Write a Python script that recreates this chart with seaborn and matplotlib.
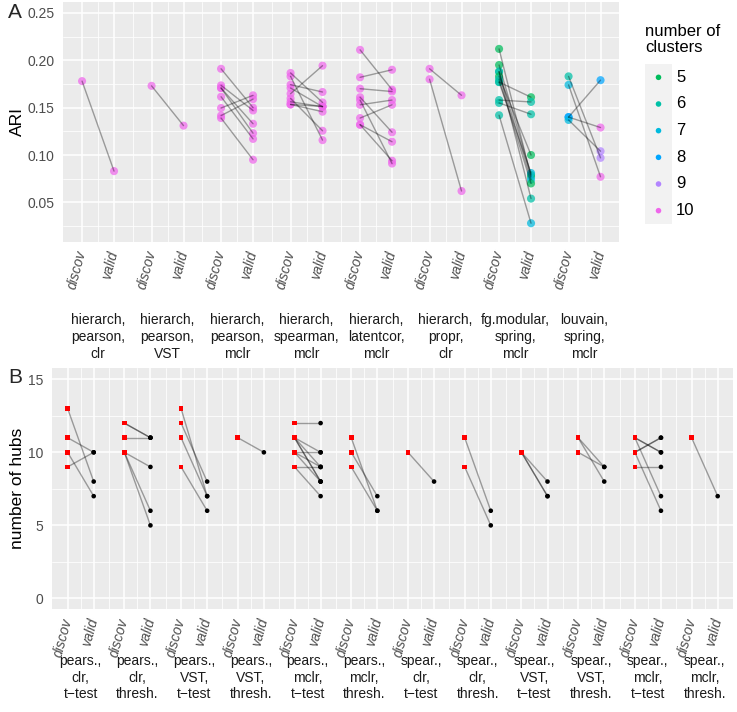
import numpy as np
import pandas as pd
import matplotlib
matplotlib.use('Agg')
import matplotlib.pyplot as plt
import seaborn as sns
from matplotlib.ticker import FixedLocator, FormatStrFormatter
from matplotlib.transforms import blended_transform_factory

# ---- panel A: ARI, discovery vs validation ----
ari_methods = ['hierarch,\npearson,\nclr', 'hierarch,\npearson,\nVST', 'hierarch,\npearson,\nmclr',
               'hierarch,\nspearman,\nmclr', 'hierarch,\nlatentcor,\nmclr', 'hierarch,\npropr,\nclr',
               'fg.modular,\nspring,\nmclr', 'louvain,\nspring,\nmclr']
ari_group = [0, 1] + [2] * 8 + [3] * 9 + [4] * 9 + [5] * 2 + [6] * 11 + [7] * 5
ari_discov = [0.178, 0.173,
              0.191, 0.1735, 0.1707, 0.1707, 0.1615, 0.1496, 0.1416, 0.139,
              0.1866, 0.183, 0.1742, 0.1707, 0.1647, 0.1597, 0.1562, 0.1534, 0.1534,
              0.211, 0.182, 0.170, 0.161, 0.158, 0.153, 0.139, 0.132, 0.132,
              0.191, 0.180,
              0.212, 0.195, 0.188, 0.188, 0.183, 0.180, 0.177, 0.177, 0.158, 0.155, 0.142,
              0.183, 0.174, 0.140, 0.140, 0.137]
ari_valid = [0.083, 0.131,
             0.150, 0.147, 0.123, 0.133, 0.117, 0.163, 0.159, 0.095,
             0.1555, 0.1157, 0.1665, 0.151, 0.1943, 0.1256, 0.151, 0.1457, 0.1513,
             0.169, 0.190, 0.167, 0.124, 0.091, 0.158, 0.153, 0.114, 0.094,
             0.163, 0.062,
             0.077, 0.079, 0.054, 0.074, 0.100, 0.070, 0.161, 0.081, 0.156, 0.143, 0.028,
             0.097, 0.077, 0.179, 0.129, 0.104]
k_discov = [10] * 30 + [5, 5, 6, 6, 5, 6, 6, 6, 6, 6, 6] + [6, 7, 8, 8, 7]
k_valid = [10] * 30 + [6, 5, 6, 7, 5, 5, 5, 7, 6, 6, 7] + [9, 10, 8, 10, 9]
cluster_levels = [5, 6, 7, 8, 9, 10]

# ---- panel B: number of hubs ----
hub_methods = ['pears.,\nclr,\nt\u2212test', 'pears.,\nclr,\nthresh.', 'pears.,\nVST,\nt\u2212test',
               'pears.,\nVST,\nthresh.', 'pears.,\nmclr,\nt\u2212test', 'pears.,\nmclr,\nthresh.',
               'spear.,\nclr,\nt\u2212test', 'spear.,\nclr,\nthresh.', 'spear.,\nVST,\nt\u2212test',
               'spear.,\nVST,\nthresh.', 'spear.,\nmclr,\nt\u2212test', 'spear.,\nmclr,\nthresh.']
hub_group = [0] * 4 + [1] * 6 + [2] * 4 + [3] + [4] * 10 + [5] * 3 + [6] + [7] * 2 + [8] * 3 + [9] * 3 + [10] * 7 + [11]
hub_discov = [13, 11, 10, 9,
              12, 12, 11, 10, 10, 10,
              13, 12, 11, 9,
              11,
              12, 11, 11, 11, 11, 10, 10, 10, 9, 9,
              11, 10, 9,
              10,
              11, 9,
              10, 10, 10,
              11, 11, 10,
              11, 11, 10, 10, 9, 11, 10,
              11]
hub_valid = [8, 10, 7, 10,
             11, 11, 11, 9, 6, 5,
             7, 8, 7, 6,
             10,
             12, 10, 8, 8, 9, 10, 9, 8, 9, 7,
             6, 7, 6,
             8,
             6, 5,
             8, 7, 7,
             9, 8, 9,
             10, 10, 11, 11, 9, 7, 6,
             7]

W, H = 737, 712
OFF = 0.23


def hue_colour(h, c=100, l=65):
    # same hcl wheel as ggplot's default hue palette
    hr = np.radians(h)
    u, v = c * np.cos(hr), c * np.sin(hr)
    y = ((l + 16) / 116) ** 3
    xn, yn, zn = 0.95047, 1.0, 1.08883
    den = xn + 15 * yn + 3 * zn
    up = u / (13 * l) + 4 * xn / den
    vp = v / (13 * l) + 9 * yn / den
    x = y * 9 * up / (4 * vp)
    z = y * (12 - 3 * up - 20 * vp) / (4 * vp)
    m = np.array([[3.2406, -1.5372, -0.4986], [-0.9689, 1.8758, 0.0415], [0.0557, -0.2040, 1.0570]])
    rgb = m @ np.array([x, y, z])
    rgb = np.where(rgb <= 0.0031308, 12.92 * rgb, 1.055 * np.abs(rgb) ** (1 / 2.4) - 0.055)
    return tuple(np.clip(rgb, 0, 1))


palette = {k: hue_colour(15 + (k - 1) * 360 / 11) for k in cluster_levels}


def long_pairs(group, discov, valid, extra=None):
    n = len(group)
    base = pd.DataFrame({'pair': range(n), 'group': group})
    d = base.assign(x=np.array(group) - OFF, value=discov, kind='discov')
    v = base.assign(x=np.array(group) + OFF, value=valid, kind='valid')
    if extra is not None:
        d['k'] = extra[0]
        v['k'] = extra[1]
    return pd.concat([d, v], ignore_index=True)


def px_axes(left, top, right, bottom):
    return [left / W, 1 - bottom / H, (right - left) / W, (bottom - top) / H]


def style_axes(ax, n_groups, labels, label_y):
    xs = []
    for g in range(n_groups):
        xs += [g - OFF, g + OFF]
    ax.set_xlim(-0.5, n_groups - 0.5)
    ax.set_xticks(xs)
    ax.set_xticklabels(['discov', 'valid'] * n_groups, rotation=75, ha='right', va='center',
                       rotation_mode='anchor', fontstyle='italic', color='#4D4D4D', fontsize=10)
    minors = [g for g in range(n_groups)] + [g + 0.5 for g in range(n_groups - 1)]
    ax.xaxis.set_minor_locator(FixedLocator(minors))
    ax.grid(True, which='major', color='white', lw=1.1)
    ax.grid(True, which='minor', color='white', lw=0.55)
    ax.tick_params(axis='both', which='major', length=3.5, width=0.8, color='#333333',
                   labelcolor='#4D4D4D', labelsize=10, pad=3)
    ax.tick_params(axis='both', which='minor', length=0)
    for s in ax.spines.values():
        s.set_visible(False)
    ax.set_xlabel('')
    trans = blended_transform_factory(ax.transData, ax.transAxes)
    for g, lab in enumerate(labels):
        ax.text(g, label_y, lab, transform=trans, ha='center', va='center', fontsize=10,
                linespacing=1.25, color='#1A1A1A')


sns.set_theme(style='darkgrid', rc={'axes.facecolor': '#EBEBEB', 'grid.color': 'white'})
plt.rcParams['font.family'] = ['Liberation Sans', 'DejaVu Sans']

fig = plt.figure(figsize=(W / 100, H / 100), dpi=100)

# panel A
ax_a = fig.add_axes(px_axes(63.3, 2, 619.3, 241.7))
ari_long = long_pairs(ari_group, ari_discov, ari_valid, (k_discov, k_valid))
sns.scatterplot(data=ari_long, x='x', y='value', hue='k', palette=palette, s=34, alpha=0.72,
                edgecolor='none', legend=False, ax=ax_a, zorder=2)
sns.lineplot(data=ari_long, x='x', y='value', units='pair', estimator=None, sort=False,
             color='black', alpha=0.35, lw=1.0, ax=ax_a, zorder=3)
ax_a.set_ylim(0.0085, 0.2615)
ax_a.set_yticks([0.05, 0.10, 0.15, 0.20, 0.25])
ax_a.yaxis.set_major_formatter(FormatStrFormatter('%.2f'))
ax_a.yaxis.set_minor_locator(FixedLocator([0.025, 0.075, 0.125, 0.175, 0.225]))
style_axes(ax_a, len(ari_methods), ari_methods, -0.398)
ax_a.set_ylabel('ARI', fontsize=12.5, color='black')
ax_a.yaxis.set_label_coords(-0.069, 0.5)

# panel B
ax_b = fig.add_axes(px_axes(52.3, 368.3, 733, 609.4))
hub_long = long_pairs(hub_group, hub_discov, hub_valid)
sns.lineplot(data=hub_long, x='x', y='value', units='pair', estimator=None, sort=False,
             color='black', alpha=0.35, lw=1.0, ax=ax_b, zorder=2)
hub_d = hub_long[hub_long['kind'] == 'discov']
hub_v = hub_long[hub_long['kind'] == 'valid']
sns.scatterplot(data=hub_d, x='x', y='value', marker='s', color='#FF0000', s=11,
                edgecolor='none', ax=ax_b, zorder=3)
sns.scatterplot(data=hub_v, x='x', y='value', marker='o', color='black', s=11,
                edgecolor='none', ax=ax_b, zorder=3)
ax_b.set_ylim(-0.75, 15.75)
ax_b.set_yticks([0, 5, 10, 15])
ax_b.yaxis.set_minor_locator(FixedLocator([2.5, 7.5, 12.5]))
style_axes(ax_b, len(hub_methods), hub_methods, -0.283)
ax_b.set_ylabel('number of hubs', fontsize=12.5, color='black')
ax_b.yaxis.set_label_coords(-0.040, 0.5)

# legend for number of clusters
lax = fig.add_axes(px_axes(645, 64, 672, 224))
key_df = pd.DataFrame({'k': cluster_levels, 'row': range(len(cluster_levels))})
key_df['x'] = 0.5
sns.scatterplot(data=key_df, x='x', y='row', hue='k', palette=palette, s=16, edgecolor='none',
                legend=False, ax=lax)
lax.set_facecolor('#F2F2F2')
lax.set_xlim(0, 1)
lax.set_ylim(len(cluster_levels) - 0.5, -0.5)
lax.set_xticks([])
lax.set_yticks([])
lax.grid(False)
lax.set_xlabel('')
lax.set_ylabel('')
for s in lax.spines.values():
    s.set_visible(False)
for r, k in zip(key_df['row'], key_df['k']):
    lax.text(1.15, r, str(k), ha='left', va='center', fontsize=12, color='black')
fig.text(645 / W, 1 - 24 / H, 'number of\nclusters', ha='left', va='top', fontsize=12,
         linespacing=1.05, color='black')

fig.text(8 / W, 1 - 3 / H, 'A', ha='left', va='top', fontsize=15)
fig.text(8 / W, 1 - 368 / H, 'B', ha='left', va='top', fontsize=15)

fig.savefig('out.png', dpi=100)
